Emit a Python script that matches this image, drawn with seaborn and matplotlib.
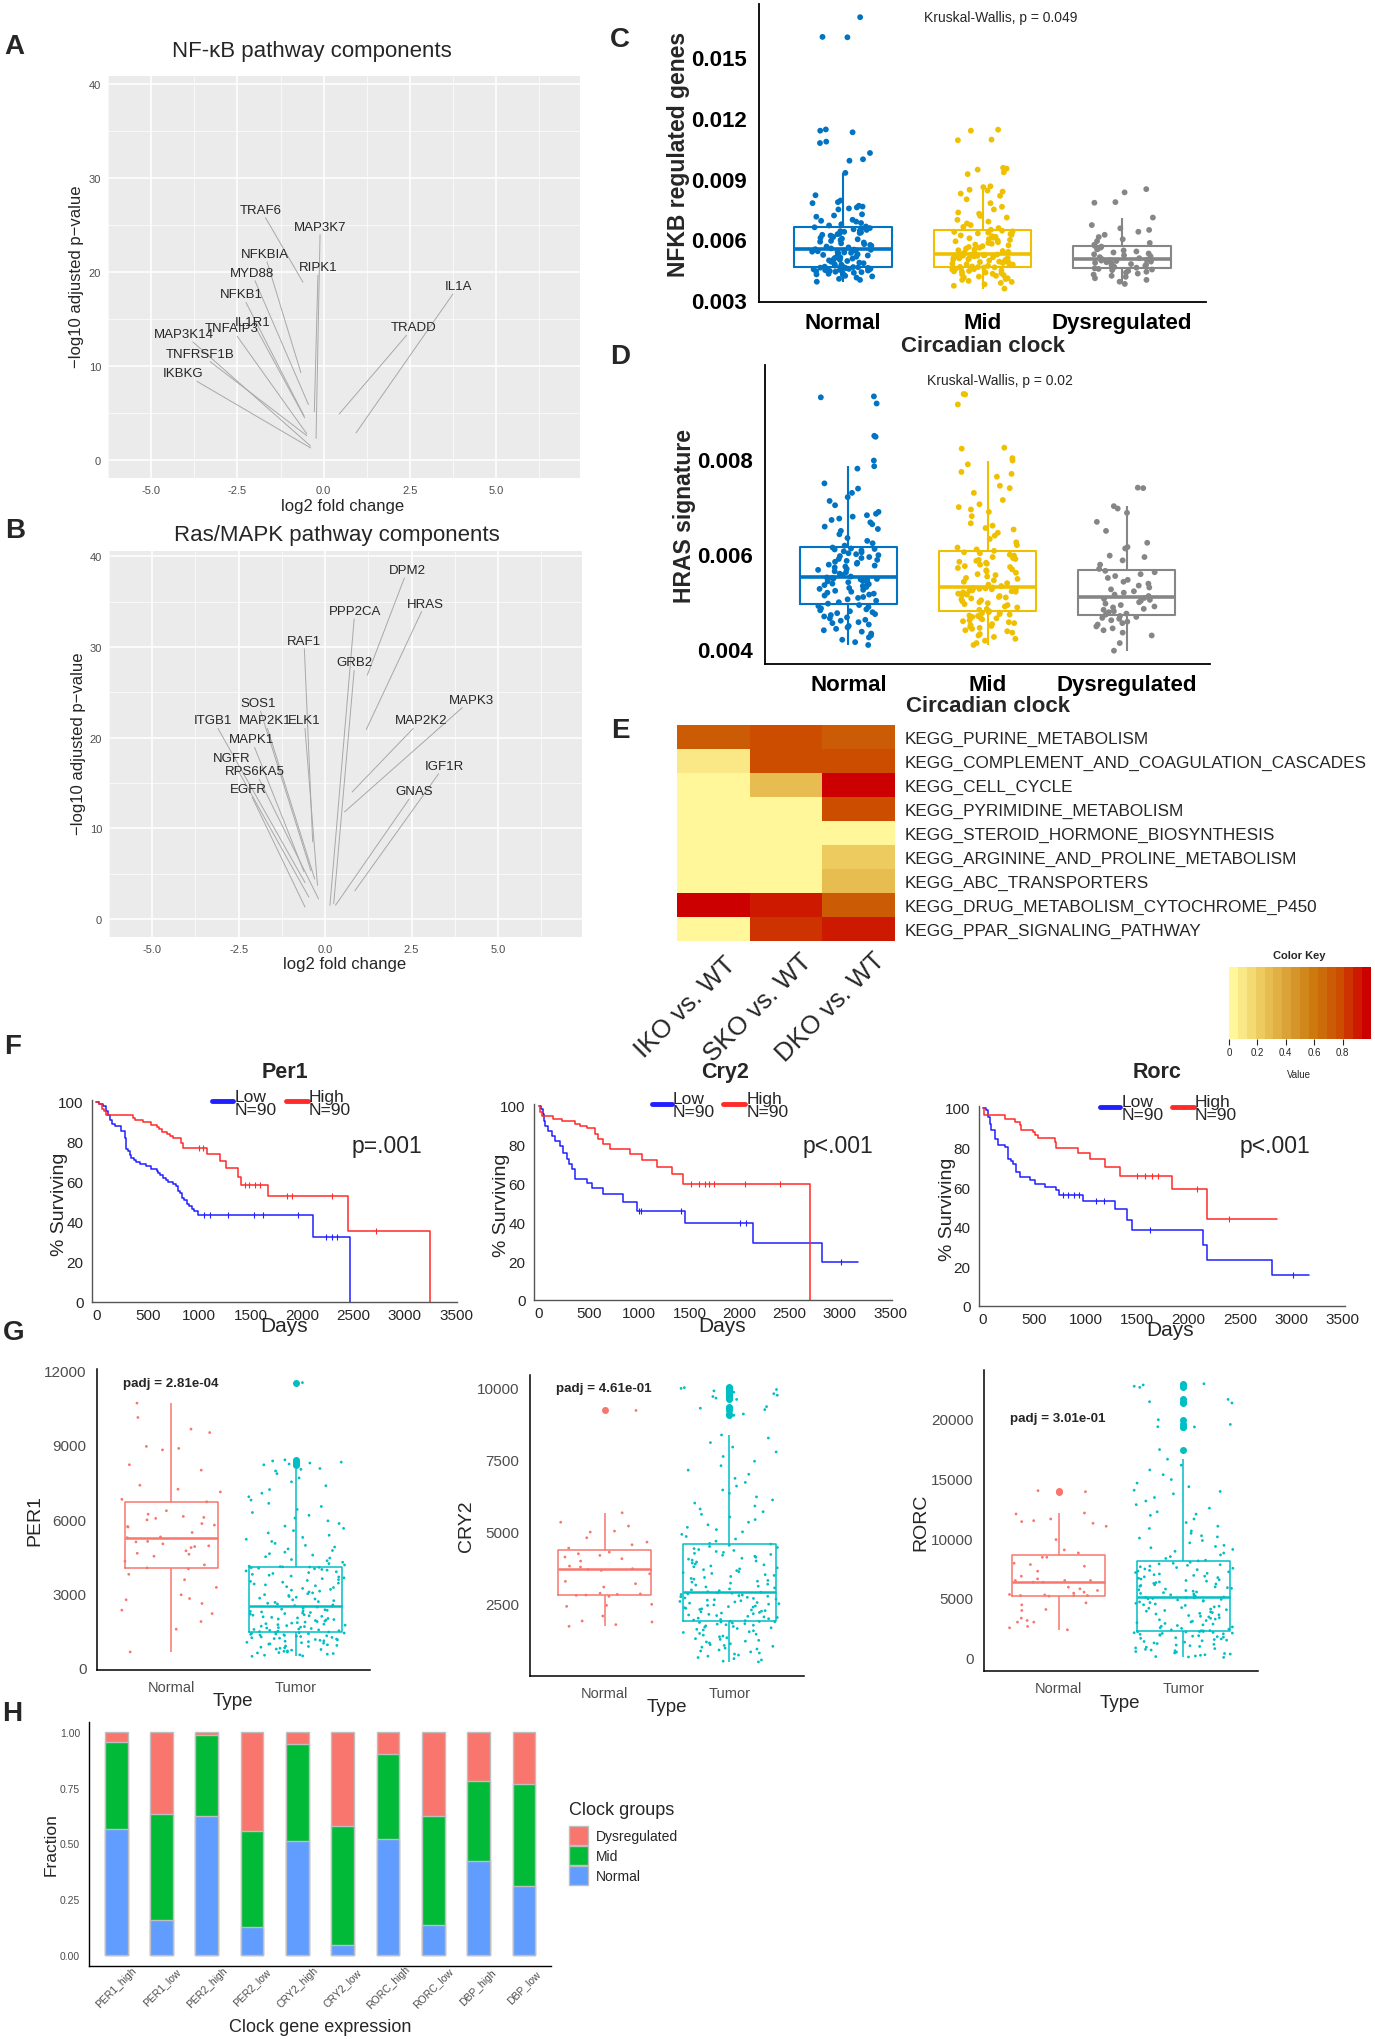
import numpy as np
import pandas as pd
import matplotlib
matplotlib.use("Agg")
import matplotlib.pyplot as plt
import seaborn as sns
from matplotlib import font_manager
from matplotlib.colors import ListedColormap, LinearSegmentedColormap, Normalize
from matplotlib.cm import ScalarMappable
from matplotlib.lines import Line2D
from matplotlib.patches import Patch

sns.set_style("white")
plt.rcParams["font.family"] = ["Liberation Sans", "DejaVu Sans"]
plt.rcParams["axes.unicode_minus"] = False
_avail = {f.name for f in font_manager.fontManager.ttflist}
NARROW = "Liberation Sans Narrow" if "Liberation Sans Narrow" in _avail else None

# ======================= DATA =======================
# A: NF-kB volcano
nfkb_genes = ["TRAF6", "MAP3K7", "NFKBIA", "RIPK1", "MYD88", "NFKB1", "IL1R1", "TNFAIP3",
              "MAP3K14", "TNFRSF1B", "IKBKG", "IL1A", "TRADD"]
nfkb_fc = [-0.60, -0.22, -0.66, -0.27, -0.44, -0.57, -0.55, -0.49, -0.38, -0.49, -0.38, 0.94, 0.45]
nfkb_p = [18.9, 2.3, 9.3, 5.1, 5.9, 4.7, 4.5, 2.8, 1.5, 2.6, 1.3, 2.9, 4.9]
nfkb_lab_x = [-1.82, -0.10, -1.71, -0.16, -2.09, -2.37, -2.06, -2.67, -4.05, -3.59, -4.06, 3.91, 2.60]
nfkb_lab_y = [26.6, 24.8, 21.9, 20.5, 19.9, 17.6, 14.7, 14.0, 13.4, 11.3, 9.2, 18.5, 14.1]

# B: Ras/MAPK volcano
ras_genes = ["DPM2", "HRAS", "PPP2CA", "RAF1", "GRB2", "MAPK3", "MAP2K2", "IGF1R", "GNAS",
             "SOS1", "ITGB1", "MAP2K1", "ELK1", "MAPK1", "NGFR", "RPS6KA5", "EGFR"]
ras_fc = [1.22, 1.19, 0.14, -0.36, 0.25, 0.56, 0.78, 0.86, 0.30, -0.41, -0.58, -0.30, -0.22,
          -0.61, -0.47, -0.19, -0.58]
ras_p = [26.9, 20.9, 1.5, 8.5, 1.7, 11.8, 14.0, 3.1, 1.5, 5.3, 4.0, 4.4, 3.7, 5.2, 2.4, 2.2, 1.3]
ras_lab_x = [2.38, 2.90, 0.86, -0.61, 0.86, 4.23, 2.77, 3.45, 2.59, -1.94, -3.23, -1.74, -0.60,
             -2.13, -2.71, -2.02, -2.22]
ras_lab_y = [38.5, 34.8, 34.0, 30.7, 28.3, 24.2, 21.9, 16.9, 14.1, 23.8, 21.9, 21.9, 21.9,
             19.8, 17.7, 16.3, 14.3]

# C: NFKB regulated genes by circadian clock group
circ_groups = ["Normal", "Mid", "Dysregulated"]
nfkb_normal = [0.00392, 0.00401, 0.00406, 0.00412, 0.00418, 0.00421, 0.00425, 0.00428, 0.00431, 0.00434,
               0.00436, 0.00439, 0.00441, 0.00443, 0.00445, 0.00447, 0.00449, 0.00450, 0.00452, 0.00453,
               0.00455, 0.00456, 0.00457, 0.00459, 0.00460, 0.00461, 0.00462, 0.00463, 0.00464, 0.00465,
               0.00466, 0.00467, 0.00471, 0.00476, 0.00479, 0.00483, 0.00486, 0.00490, 0.00494, 0.00497,
               0.00500, 0.00503, 0.00506, 0.00509, 0.00512, 0.00515, 0.00518, 0.00521, 0.00524, 0.00527,
               0.00529, 0.00531, 0.00534, 0.00536, 0.00538, 0.00540, 0.00542, 0.00544, 0.00546, 0.00548,
               0.00549, 0.00550, 0.00552, 0.00556, 0.00561, 0.00565, 0.00569, 0.00573, 0.00577, 0.00581,
               0.00585, 0.00589, 0.00593, 0.00597, 0.00601, 0.00604, 0.00608, 0.00612, 0.00615, 0.00619,
               0.00623, 0.00626, 0.00629, 0.00632, 0.00635, 0.00638, 0.00641, 0.00644, 0.00647, 0.00650,
               0.00653, 0.00656, 0.00660, 0.00664, 0.00669, 0.00675, 0.00681, 0.00688, 0.00692, 0.00697,
               0.00712, 0.00718, 0.00724, 0.00748, 0.00753, 0.00758, 0.00762, 0.00766, 0.00779, 0.00784,
               0.00792, 0.00818, 0.00928, 0.00988, 0.00995, 0.01026, 0.01075, 0.01082, 0.01128, 0.01136,
               0.01142, 0.01596, 0.01598, 0.01695]
nfkb_mid = [0.00358, 0.00372, 0.00379, 0.00386, 0.00391, 0.00396, 0.00401, 0.00405, 0.00409, 0.00413,
            0.00417, 0.00421, 0.00424, 0.00428, 0.00431, 0.00434, 0.00437, 0.00440, 0.00443, 0.00445,
            0.00448, 0.00450, 0.00452, 0.00454, 0.00456, 0.00458, 0.00460, 0.00462, 0.00463, 0.00464,
            0.00465, 0.00467, 0.00470, 0.00473, 0.00476, 0.00478, 0.00481, 0.00484, 0.00486, 0.00489,
            0.00491, 0.00494, 0.00496, 0.00499, 0.00501, 0.00503, 0.00505, 0.00507, 0.00509, 0.00511,
            0.00513, 0.00515, 0.00517, 0.00519, 0.00520, 0.00522, 0.00523, 0.00525, 0.00526, 0.00527,
            0.00528, 0.00529, 0.00531, 0.00535, 0.00539, 0.00543, 0.00547, 0.00551, 0.00555, 0.00559,
            0.00563, 0.00567, 0.00571, 0.00575, 0.00579, 0.00583, 0.00587, 0.00591, 0.00595, 0.00598,
            0.00602, 0.00606, 0.00609, 0.00613, 0.00616, 0.00620, 0.00623, 0.00627, 0.00630, 0.00634,
            0.00637, 0.00640, 0.00643, 0.00648, 0.00656, 0.00662, 0.00671, 0.00679, 0.00688, 0.00697,
            0.00708, 0.00716, 0.00727, 0.00733, 0.00748, 0.00761, 0.00779, 0.00798, 0.00815, 0.00826,
            0.00836, 0.00841, 0.00845, 0.00858, 0.00862, 0.00922, 0.00931, 0.00944, 0.00949, 0.00953,
            0.01089, 0.01092, 0.01136, 0.01141]
nfkb_dys = [0.00381, 0.00392, 0.00401, 0.00409, 0.00416, 0.00421, 0.00427, 0.00432, 0.00437, 0.00441,
            0.00445, 0.00449, 0.00452, 0.00455, 0.00458, 0.00461, 0.00464, 0.00467, 0.00470, 0.00473,
            0.00476, 0.00479, 0.00482, 0.00485, 0.00488, 0.00491, 0.00494, 0.00496, 0.00498, 0.00500,
            0.00504, 0.00508, 0.00513, 0.00517, 0.00522, 0.00527, 0.00531, 0.00536, 0.00541, 0.00546,
            0.00551, 0.00555, 0.00560, 0.00565, 0.00569, 0.00574, 0.00583, 0.00592, 0.00601, 0.00612,
            0.00623, 0.00638, 0.00647, 0.00655, 0.00671, 0.00708, 0.00781, 0.00784, 0.00832, 0.00848]

# D: HRAS signature
hras_normal = [0.00408, 0.00414, 0.00419, 0.00424, 0.00428, 0.00432, 0.00436, 0.00439, 0.00442, 0.00445,
               0.00448, 0.00451, 0.00454, 0.00456, 0.00459, 0.00461, 0.00464, 0.00466, 0.00468, 0.00471,
               0.00473, 0.00475, 0.00477, 0.00479, 0.00481, 0.00483, 0.00485, 0.00488, 0.00490, 0.00492,
               0.00495, 0.00498, 0.00501, 0.00504, 0.00507, 0.00509, 0.00512, 0.00514, 0.00516, 0.00518,
               0.00520, 0.00522, 0.00524, 0.00526, 0.00528, 0.00530, 0.00532, 0.00534, 0.00536, 0.00537,
               0.00539, 0.00540, 0.00542, 0.00543, 0.00545, 0.00546, 0.00547, 0.00548, 0.00549, 0.00550,
               0.00552, 0.00555, 0.00558, 0.00561, 0.00563, 0.00566, 0.00568, 0.00571, 0.00573, 0.00575,
               0.00577, 0.00579, 0.00581, 0.00583, 0.00585, 0.00587, 0.00589, 0.00591, 0.00593, 0.00595,
               0.00597, 0.00599, 0.00601, 0.00603, 0.00605, 0.00607, 0.00609, 0.00610, 0.00611, 0.00613,
               0.00617, 0.00622, 0.00627, 0.00633, 0.00641, 0.00648, 0.00652, 0.00657, 0.00662, 0.00666,
               0.00671, 0.00674, 0.00678, 0.00681, 0.00684, 0.00688, 0.00702, 0.00711, 0.00719, 0.00728,
               0.00737, 0.00748, 0.00779, 0.00784, 0.00796, 0.00846, 0.00848, 0.00916, 0.00929, 0.00931]
hras_mid = [0.00408, 0.00412, 0.00417, 0.00421, 0.00425, 0.00428, 0.00431, 0.00434, 0.00437, 0.00439,
            0.00442, 0.00444, 0.00446, 0.00448, 0.00450, 0.00452, 0.00454, 0.00456, 0.00458, 0.00460,
            0.00462, 0.00464, 0.00465, 0.00467, 0.00469, 0.00470, 0.00472, 0.00473, 0.00475, 0.00476,
            0.00477, 0.00479, 0.00482, 0.00484, 0.00487, 0.00489, 0.00492, 0.00494, 0.00496, 0.00498,
            0.00500, 0.00502, 0.00504, 0.00506, 0.00508, 0.00509, 0.00511, 0.00513, 0.00514, 0.00516,
            0.00517, 0.00519, 0.00520, 0.00521, 0.00522, 0.00523, 0.00524, 0.00525, 0.00526, 0.00527,
            0.00528, 0.00529, 0.00532, 0.00535, 0.00538, 0.00541, 0.00544, 0.00547, 0.00549, 0.00552,
            0.00555, 0.00557, 0.00560, 0.00563, 0.00565, 0.00567, 0.00570, 0.00572, 0.00574, 0.00577,
            0.00579, 0.00581, 0.00583, 0.00585, 0.00587, 0.00589, 0.00591, 0.00593, 0.00596, 0.00598,
            0.00601, 0.00603, 0.00606, 0.00609, 0.00613, 0.00618, 0.00624, 0.00631, 0.00638, 0.00644,
            0.00651, 0.00654, 0.00659, 0.00664, 0.00679, 0.00688, 0.00693, 0.00698, 0.00704, 0.00713,
            0.00728, 0.00738, 0.00743, 0.00762, 0.00768, 0.00772, 0.00788, 0.00796, 0.00801, 0.00821,
            0.00823, 0.00914, 0.00935, 0.00936]
hras_dys = [0.00396, 0.00412, 0.00428, 0.00434, 0.00439, 0.00443, 0.00447, 0.00451, 0.00454, 0.00457,
            0.00460, 0.00463, 0.00465, 0.00467, 0.00469, 0.00472, 0.00474, 0.00477, 0.00479, 0.00482,
            0.00484, 0.00487, 0.00489, 0.00492, 0.00495, 0.00498, 0.00501, 0.00503, 0.00505, 0.00507,
            0.00511, 0.00514, 0.00518, 0.00521, 0.00525, 0.00529, 0.00533, 0.00537, 0.00541, 0.00545,
            0.00549, 0.00553, 0.00557, 0.00561, 0.00564, 0.00568, 0.00577, 0.00586, 0.00593, 0.00596,
            0.00611, 0.00614, 0.00623, 0.00648, 0.00667, 0.00686, 0.00695, 0.00700, 0.00738, 0.00739]

# E: KEGG heatmap
pathways = ["KEGG_PURINE_METABOLISM", "KEGG_COMPLEMENT_AND_COAGULATION_CASCADES", "KEGG_CELL_CYCLE",
            "KEGG_PYRIMIDINE_METABOLISM", "KEGG_STEROID_HORMONE_BIOSYNTHESIS",
            "KEGG_ARGININE_AND_PROLINE_METABOLISM", "KEGG_ABC_TRANSPORTERS",
            "KEGG_DRUG_METABOLISM_CYTOCHROME_P450", "KEGG_PPAR_SIGNALING_PATHWAY"]
contrasts = ["IKO vs. WT", "SKO vs. WT", "DKO vs. WT"]
heat_iko = [0.72, 0.12, 0.0, 0.0, 0.0, 0.0, 0.0, 1.0, 0.03]
heat_sko = [0.80, 0.80, 0.28, 0.0, 0.0, 0.0, 0.0, 0.90, 0.87]
heat_dko = [0.72, 0.80, 1.0, 0.80, 0.0, 0.20, 0.30, 0.72, 0.90]
key_ticks = [0, 0.2, 0.4, 0.6, 0.8]

# F: Kaplan-Meier curves (time in days, % surviving)
per1_low_t = [0, 30, 60, 90, 110, 130, 150, 180, 244, 276, 285, 292, 310, 330, 341, 370, 390, 420, 487, 530,
              585, 600, 617, 650, 680, 700, 747, 770, 796, 810, 829, 850, 877, 900, 926, 950, 991, 2112, 2470]
per1_low_s = [100, 98.9, 97.8, 95.5, 93.3, 91.1, 88.9, 87.8, 85.6, 82.2, 80.0, 76.7, 75.6, 73.3, 72.2, 71.1,
              70.0, 68.9, 67.8, 66.7, 65.6, 64.4, 63.3, 62.2, 61.1, 60.0, 58.9, 57.8, 55.6, 54.4, 52.2, 51.1,
              48.9, 47.8, 46.7, 45.6, 43.3, 32.5, 0]
per1_high_t = [0, 25, 50, 75, 98, 357, 374, 455, 536, 585, 610, 634, 683, 720, 747, 820, 845, 1072, 1202,
               1261, 1381, 1404, 1674, 2447, 3250]
per1_high_s = [100, 98.9, 96.7, 95.6, 93.3, 92.2, 90.9, 89.8, 88.7, 87.5, 86.4, 85.2, 84.1, 82.9, 81.8,
               79.5, 77.2, 73.8, 70.3, 66.8, 62.4, 58.5, 53.2, 35.3, 0]
per1_low_c = [1050, 1110, 1280, 1530, 1620, 1960, 2230, 2290, 2340]
per1_high_c = [1000, 1040, 1450, 1490, 1540, 1590, 1860, 1900, 2290, 2720]

cry2_low_t = [0, 20, 37, 50, 60, 93, 126, 160, 209, 243, 276, 300, 326, 359, 475, 525, 641, 841, 974, 1456,
              2137, 2818, 3184]
cry2_low_s = [100, 98.3, 96.0, 92.3, 89.7, 87.0, 84.5, 82.0, 79.4, 76.0, 72.5, 70.0, 67.4, 62.2, 60.5, 57.9,
              54.5, 50.5, 45.9, 39.5, 29.6, 19.6, 19.6]
cry2_high_t = [0, 10, 33, 143, 226, 359, 409, 475, 558, 592, 641, 708, 907, 1024, 1173, 1323, 1439, 2702]
cry2_high_s = [100, 97.0, 94.8, 93.5, 92.3, 90.5, 89.7, 88.8, 85.4, 82.8, 80.2, 77.7, 75.1, 72.2, 68.6, 64.8,
               60.0, 0]
cry2_low_c = [1000, 1020, 1420, 2000, 2060, 3010]
cry2_high_c = [1520, 1600, 1660, 1700, 1740, 2050, 2400]

rorc_low_t = [0, 30, 49, 65, 81, 114, 146, 211, 244, 270, 292, 325, 357, 455, 503, 601, 714, 740, 974, 1282,
              1396, 1451, 2143, 2175, 2808, 3166]
rorc_low_s = [100, 99.0, 95.5, 92.0, 88.7, 84.5, 81.5, 80.3, 74.4, 73.0, 71.9, 67.7, 65.2, 63.5, 61.8, 60.1,
              58.4, 56.2, 52.9, 48.8, 43.3, 38.2, 30.6, 23.1, 15.5, 15.5]
rorc_high_t = [0, 10, 211, 308, 357, 373, 487, 503, 536, 698, 714, 925, 1039, 1185, 1331, 1834, 2175, 2857]
rorc_high_s = [100, 96.3, 94.3, 92.9, 91.2, 88.7, 87.9, 86.2, 84.8, 82.8, 79.8, 77.4, 74.1, 70.2, 65.7,
               58.9, 43.8, 43.8]
rorc_low_c = [780, 830, 880, 930, 1100, 1180, 1620, 3010]
rorc_high_c = [1500, 1580, 1640, 1700, 2080, 2390]

# G: expression Normal vs Tumor
tissue_groups = ["Normal", "Tumor"]
per1_normal = [630, 1550, 1860, 2180, 2320, 2590, 2740, 2790, 2940, 3240, 3550, 3770, 3990, 4030, 4150, 4300,
               4500, 4580, 4620, 4720, 4850, 4890, 4920, 5000, 5080, 5100, 5280, 5250, 5460, 5680, 5700, 5760,
               5820, 5970, 6030, 6070, 6110, 6200, 6340, 6700, 6800, 7100, 7210, 7370, 7980, 8200, 8800, 8860,
               8940, 9500, 9640, 10110, 10690]
per1_tumor = [455, 470, 498, 512, 540, 566, 590, 603, 628, 655, 671, 702, 730, 748, 779, 801, 822, 850, 871, 893,
              919, 944, 958, 983, 1002, 1019, 1046, 1063, 1081, 1099, 1118, 1133, 1152, 1170, 1186, 1203, 1219,
              1236, 1252, 1268, 1283, 1297, 1312, 1326, 1340, 1354, 1368, 1381, 1395, 1410,
              1422, 1436, 1451, 1468, 1487, 1503, 1522, 1540, 1556, 1578, 1597, 1614, 1633, 1655, 1672, 1694,
              1713, 1735, 1752, 1773, 1795, 1814, 1836, 1858, 1877, 1899, 1921, 1940, 1962, 1984, 2006, 2027,
              2049, 2070, 2092, 2115, 2136, 2158, 2180, 2203, 2224, 2247, 2269, 2291, 2314, 2336, 2359, 2402,
              2443, 2481,
              2503, 2532, 2567, 2598, 2634, 2665, 2703, 2736, 2771, 2805, 2842, 2874, 2913, 2946, 2983, 3018,
              3054, 3089, 3127, 3160, 3198, 3235, 3268, 3306, 3341, 3377, 3412, 3449, 3483, 3521, 3555, 3592,
              3627, 3662, 3697, 3733, 3768, 3803, 3838, 3871, 3905, 3937, 3966, 3992, 4015, 4034, 4051, 4063,
              4072, 4080,
              4098, 4147, 4203, 4255, 4318, 4366, 4425, 4480, 4547, 4603, 4664, 4731, 4796, 4872, 4938, 5019,
              5097, 5186, 5261, 5348, 5442, 5534, 5627, 5719, 5823, 5931, 6042, 6155, 6268, 6393, 6512, 6638,
              6771, 6905, 7048, 7196, 7349, 7508, 7667, 7839, 7948, 8012, 8047, 8196, 8228, 8268, 8305, 8352,
              8398, 11520]
cry2_normal = [1725, 1783, 1875, 1910, 2083, 2418, 2453, 2488, 2765, 2800, 2810, 2834, 2850, 2870, 3088, 3204,
               3285, 3550, 3666, 3700, 3724, 3782, 3817, 3990, 4072, 4130, 4187, 4245, 4300, 4441, 4557, 4650,
               4800, 4996, 5030, 5204, 5340, 5667, 9220]
cry2_tumor = [489, 515, 558, 603, 641, 688, 727, 762, 798, 836, 868, 903, 937, 968, 1002, 1031, 1062, 1088, 1121,
              1148, 1182, 1209, 1238, 1271, 1297, 1329, 1362, 1388, 1419, 1452, 1478, 1511, 1537, 1569, 1598,
              1622, 1648, 1673, 1697, 1718, 1742, 1761, 1779, 1802, 1818, 1839, 1857, 1873, 1886, 1894,
              1902, 1921, 1943, 1962, 1988, 2008, 2031, 2052, 2073, 2098, 2119, 2141, 2163, 2184, 2207, 2229,
              2251, 2268, 2292, 2311, 2332, 2349, 2371, 2392, 2409, 2431, 2452, 2468, 2493, 2511, 2528, 2552,
              2571, 2589, 2612, 2633, 2649, 2671, 2692, 2709, 2731, 2752, 2768, 2791, 2812, 2829, 2851, 2872,
              2889, 2908,
              2927, 2961, 2989, 3023, 3058, 3092, 3118, 3157, 3188, 3224, 3259, 3291, 3318, 3362, 3388, 3421,
              3457, 3492, 3519, 3561, 3588, 3623, 3658, 3691, 3718, 3757, 3792, 3821, 3859, 3888, 3922, 3958,
              3993, 4021, 4057, 4088, 4122, 4158, 4193, 4219, 4258, 4291, 4323, 4358, 4389, 4422, 4461, 4497,
              4538, 4579,
              4603, 4682, 4757, 4843, 4918, 5004, 5083, 5162, 5249, 5338, 5431, 5522, 5613, 5704, 5797, 5902,
              6004, 6113, 6218, 6342, 6458, 6593, 6721, 6862, 7003, 7148, 7302, 7457, 7621, 7779, 7948, 8103,
              8262, 8368, 9052, 9096, 9248, 9297, 9352, 9603, 9648, 9702, 9748, 9801, 9853, 9898, 9947, 9985,
              10012, 10043]
rorc_normal = [2337, 2504, 2615, 2977, 2977, 3116, 3310, 3950, 4034, 4423, 4590, 5150, 5202, 5202, 5202, 5250,
               5286, 5400, 5481, 5620, 5759, 5898, 6315, 6315, 6454, 6454, 6454, 6593, 6816, 7233, 7650, 7790,
               7900, 8400, 8400, 8763, 9014, 9876, 10990, 11240, 11380, 11460, 11600, 12020, 12100, 13880, 13965]
rorc_tumor = [28, 64, 97, 146, 203, 247, 305, 352, 398, 463, 517, 584, 641, 698, 762, 818, 883, 941, 1003, 1058,
              1122, 1183, 1237, 1302, 1358, 1417, 1468, 1523, 1571, 1618, 1672, 1718, 1763, 1802, 1843, 1877,
              1921, 1958, 1997, 2031, 2062, 2088, 2118, 2147, 2172, 2191, 2208, 2226, 2238, 2249,
              2268, 2331, 2388, 2453, 2509, 2572, 2628, 2693, 2748, 2812, 2868, 2933, 2988, 3052, 3108, 3173,
              3227, 3292, 3348, 3413, 3468, 3531, 3588, 3652, 3708, 3773, 3828, 3893, 3948, 4012, 4068, 4133,
              4188, 4252, 4308, 4373, 4428, 4493, 4548, 4612, 4668, 4732, 4778, 4833, 4878, 4922, 4958, 5003,
              5028, 5058,
              5083, 5138, 5203, 5258, 5322, 5377, 5443, 5498, 5562, 5617, 5683, 5738, 5802, 5857, 5923, 5978,
              6042, 6097, 6163, 6218, 6282, 6337, 6403, 6458, 6522, 6577, 6643, 6698, 6762, 6817, 6883, 6938,
              7002, 7057, 7123, 7178, 7242, 7297, 7363, 7418, 7482, 7537, 7603, 7658, 7722, 7777, 7843, 7898,
              7982, 8097,
              8152, 8298, 8453, 8597, 8752, 8898, 9053, 9197, 9302, 9398, 9603, 9797, 10003, 10102, 10197, 10403,
              10598, 10803, 10997, 11302, 11597, 11903, 12003, 12197, 12503, 12797, 13103, 13397, 13703, 13902,
              14003, 14297, 14603, 14897, 15303, 15697, 16103, 16598, 17402, 19297, 19312, 19503, 19897, 21302,
              21403, 21597, 22603, 22697, 22803, 22902]

# H: clock group fractions
h_labels = ["PER1_high", "PER1_low", "PER2_high", "PER2_low", "CRY2_high", "CRY2_low",
            "RORC_high", "RORC_low", "DBP_high", "DBP_low"]
frac_normal = [0.565, 0.157, 0.622, 0.123, 0.510, 0.043, 0.520, 0.133, 0.421, 0.310]
frac_mid = [0.390, 0.476, 0.366, 0.432, 0.435, 0.534, 0.380, 0.489, 0.357, 0.455]
frac_dys = [0.045, 0.367, 0.012, 0.445, 0.055, 0.423, 0.100, 0.378, 0.222, 0.235]

# ======================= STYLE =======================
JCO = {"Normal": "#0073C2", "Mid": "#EFC000", "Dysregulated": "#868686"}
TT = {"Normal": "#F8766D", "Tumor": "#00BFC4"}
CLOCK = {"Dysregulated": "#F8766D", "Mid": "#00BA38", "Normal": "#619CFF"}
KM_BLUE, KM_RED = "#1f1fff", "#ff2a2a"
GRAY30 = "#4D4D4D"

W, H = 1375, 2040
fig = plt.figure(figsize=(W / 100, H / 100), dpi=100, facecolor="white")


def add_ax(x0, y0, x1, y1):
    return fig.add_axes([x0 / W, 1 - y1 / H, (x1 - x0) / W, (y1 - y0) / H])


def ftext(x, y, s, **kw):
    kw.setdefault("ha", "center")
    kw.setdefault("va", "center")
    return fig.text(x / W, 1 - y / H, s, **kw)


def letter(x, y, s):
    ftext(x, y, s, fontsize=20, fontweight="bold")


def classic(ax, lw=1.0, labelsize=11, labelcolor=GRAY30, ticklen=4):
    for side in ["top", "right"]:
        ax.spines[side].set_visible(False)
    for side in ["left", "bottom"]:
        ax.spines[side].set_linewidth(lw)
        ax.spines[side].set_color("black")
    ax.tick_params(direction="out", length=ticklen, width=lw, labelsize=labelsize,
                   labelcolor=labelcolor, color="#333333")
    ax.set_xlabel("")
    ax.set_ylabel("")


# ---------------- A / B volcano -----------------
def volcano(ax, genes, fc, pv, lab_x, lab_y, ylim):
    ax.set_facecolor("#EBEBEB")
    ax.set_xlim(-5.94, 7.43)
    ax.set_ylim(*ylim)
    ax.set_xticks([-5, -2.5, 0, 2.5, 5])
    ax.set_xticklabels(["-5.0", "-2.5", "0.0", "2.5", "5.0"])
    ax.set_xticks([-6.25, -3.75, -1.25, 1.25, 3.75, 6.25], minor=True)
    ax.set_yticks([0, 10, 20, 30, 40])
    ax.set_yticks([5, 15, 25, 35], minor=True)
    ax.grid(which="major", color="white", lw=1.1)
    ax.grid(which="minor", color="white", lw=0.5)
    ax.set_axisbelow(True)
    for s in ax.spines.values():
        s.set_visible(False)
    ax.tick_params(which="major", length=3, color="#333333", labelsize=8, labelcolor=GRAY30, pad=2)
    ax.tick_params(which="minor", length=0)
    T = ax.transData
    inv = T.inverted()
    for g, x, y, lx, ly in zip(genes, fc, pv, lab_x, lab_y):
        pl = T.transform((lx, ly))
        pp = T.transform((x, y))
        dx, dy = pp[0] - pl[0], pp[1] - pl[1]
        hw = 4.3 * len(g) + 2
        hh = 8
        t = min(hw / abs(dx) if dx else np.inf, hh / abs(dy) if dy else np.inf)
        if t < 1:
            sx, sy = inv.transform((pl[0] + t * dx, pl[1] + t * dy))
            ax.plot([sx, x], [sy, y], color="#A8A8A8", lw=0.7, zorder=2)
        ax.text(lx, ly, g, ha="center", va="center", fontsize=9.5, zorder=3)


axA = add_ax(108, 77, 580, 479)
volcano(axA, nfkb_genes, nfkb_fc, nfkb_p, nfkb_lab_x, nfkb_lab_y, (-1.9, 40.8))
letter(14, 47, "A")
ftext(312, 52, "NF-\u03baB pathway components", fontsize=16)
ftext(343, 507, "log2 fold change", fontsize=12)
ftext(76, 277, "\u2212log10 adjusted p\u2212value", fontsize=12, rotation=90)

axB = add_ax(109, 552, 582, 938)
volcano(axB, ras_genes, ras_fc, ras_p, ras_lab_x, ras_lab_y, (-2.0, 40.6))
letter(15, 531, "B")
ftext(337, 536, "Ras/MAPK pathway components", fontsize=16)
ftext(345, 965, "log2 fold change", fontsize=12)
ftext(78, 744, "\u2212log10 adjusted p\u2212value", fontsize=12, rotation=90)


# ---------------- box + strip helper -----------------
def box_strip(ax, groups, values, palette, width, jitter, size, lw, med_lw, showfliers, fliersize=5):
    df = pd.DataFrame({"g": np.repeat(groups, [len(v) for v in values]),
                       "v": np.concatenate([np.asarray(v, float) for v in values])})
    sns.boxplot(data=df, x="g", y="v", hue="g", order=groups, hue_order=groups, palette=palette,
                saturation=1, fill=False, width=width, dodge=False, showcaps=False,
                showfliers=showfliers, linewidth=lw, legend=False, ax=ax,
                medianprops={"linewidth": med_lw},
                flierprops={"marker": "o", "markersize": fliersize})
    for ln in ax.lines:
        if ln.get_marker() == "o":
            ln.set_markerfacecolor(ln.get_markeredgecolor())
    sns.stripplot(data=df, x="g", y="v", hue="g", order=groups, hue_order=groups, palette=palette,
                  jitter=jitter, size=size, dodge=False, legend=False, ax=ax, zorder=3)


np.random.seed(7)

# ---------------- C -----------------
axC = add_ax(759, 5, 1206, 303)
box_strip(axC, circ_groups, [nfkb_normal, nfkb_mid, nfkb_dys], JCO, 0.7, 0.22, 4.2, 1.5, 2.6, False)
axC.set_xlim(-0.6, 2.6)
axC.set_ylim(0.00292, 0.0176)
axC.set_yticks([0.003, 0.006, 0.009, 0.012, 0.015])
classic(axC, lw=1.3, labelsize=16, labelcolor="black", ticklen=5)
axC.set_yticklabels(["0.003", "0.006", "0.009", "0.012", "0.015"], fontweight="bold")
axC.set_xticklabels(circ_groups, fontweight="bold")
axC.tick_params(axis="x", pad=2)
letter(620, 40, "C")
ftext(678, 154, "NFKB regulated genes", fontsize=16.5, fontweight="bold", rotation=90)
ftext(983, 346, "Circadian clock", fontsize=16, fontweight="bold")
ftext(1001, 18, "Kruskal-Wallis, p = 0.049", fontsize=10)

# ---------------- D -----------------
axD = add_ax(765, 366, 1210, 665)
box_strip(axD, circ_groups, [hras_normal, hras_mid, hras_dys], JCO, 0.7, 0.22, 4.2, 1.5, 2.6, False)
axD.set_xlim(-0.6, 2.6)
axD.set_ylim(0.00368, 0.00997)
axD.set_yticks([0.004, 0.006, 0.008])
classic(axD, lw=1.3, labelsize=16, labelcolor="black", ticklen=5)
axD.set_yticklabels(["0.004", "0.006", "0.008"], fontweight="bold")
axD.set_xticklabels(circ_groups, fontweight="bold")
axD.tick_params(axis="x", pad=2)
letter(620, 357, "D")
ftext(684, 516, "HRAS signature", fontsize=16.5, fontweight="bold", rotation=90)
ftext(988, 707, "Circadian clock", fontsize=16, fontweight="bold")
ftext(1000, 381, "Kruskal-Wallis, p = 0.02", fontsize=10)

# ---------------- E heatmap -----------------
base_cmap = LinearSegmentedColormap.from_list(
    "ylrd", ["#FFF799", "#EDCB5E", "#DBA238", "#CC7A0E", "#CC4C00", "#CC0000"])
cmap16 = ListedColormap(base_cmap(np.linspace(0, 1, 16)))
heat_df = pd.DataFrame({"IKO vs. WT": heat_iko, "SKO vs. WT": heat_sko, "DKO vs. WT": heat_dko},
                       index=pathways)
axE = add_ax(677, 726, 895, 942)
sns.heatmap(heat_df, ax=axE, cmap=cmap16, vmin=0, vmax=1, cbar=False, xticklabels=False,
            yticklabels=True, linewidths=0)
axE.yaxis.tick_right()
if NARROW:
    row_font = dict(family=NARROW, fontsize=15)
else:
    row_font = dict(fontsize=12.3)
for lab in axE.yaxis.get_ticklabels():
    lab.set_rotation(0)
    lab.set_ha("left")
    lab.set(**row_font)
axE.tick_params(axis="y", length=0, pad=7)
axE.set_xlabel("")
axE.set_ylabel("")
for j, name in enumerate(contrasts):
    axE.text(j + 0.5 - 0.385, 11.75, name, rotation=45, ha="center", va="center", fontsize=18.5,
             clip_on=False)
letter(620, 731, "E")
kax = add_ax(1229, 968, 1371, 1040)
cb = fig.colorbar(ScalarMappable(norm=Normalize(0, 1), cmap=cmap16), cax=kax, orientation="horizontal",
                  ticks=key_ticks)
cb.ax.set_xticklabels(["0", "0.2", "0.4", "0.6", "0.8"])
cb.outline.set_visible(False)
kax.tick_params(labelsize=7, length=4, width=0.8, pad=2)
ftext(1299, 956, "Color Key", fontsize=8, fontweight="bold")
ftext(1299, 1075, "Value", fontsize=7)


# ---------------- F KM -----------------
def km_panel(ax, tl, sl, th, sh, cl, ch, xlim):
    sns.lineplot(x=tl, y=sl, drawstyle="steps-post", estimator=None, sort=False, color=KM_BLUE,
                 linewidth=1.1, ax=ax)
    sns.lineplot(x=th, y=sh, drawstyle="steps-post", estimator=None, sort=False, color=KM_RED,
                 linewidth=1.1, ax=ax)
    for times, surv, cens, col in [(tl, sl, cl, KM_BLUE), (th, sh, ch, KM_RED)]:
        t = np.asarray(times)
        s = np.asarray(surv)
        idx = np.searchsorted(t, cens, side="right") - 1
        ax.plot(cens, s[idx], ls="none", marker="|", ms=4, mew=0.8, color=col)
    ax.set_xlim(*xlim)
    ax.set_ylim(0, 101)
    ax.set_xticks(range(0, 3501, 500))
    ax.set_yticks(range(0, 101, 20))
    for side in ["top", "right"]:
        ax.spines[side].set_visible(False)
    for side in ["left", "bottom"]:
        ax.spines[side].set_color("#555555")
        ax.spines[side].set_linewidth(1.0)
    ax.tick_params(axis="y", length=4, width=1, pad=2, labelsize=11, color="#555555")
    ax.tick_params(axis="x", length=3, width=1, pad=1, labelsize=11, color="#555555")
    ax.set_xlabel("")
    ax.set_ylabel("")


def km_legend(xb0, xb1, xr0, xr1, yl, xt_low, xt_high, yt):
    fig.add_artist(Line2D([xb0 / W, xb1 / W], [1 - yl / H] * 2, color=KM_BLUE, lw=3.5,
                          transform=fig.transFigure))
    fig.add_artist(Line2D([xr0 / W, xr1 / W], [1 - yl / H] * 2, color=KM_RED, lw=3.5,
                          transform=fig.transFigure))
    ftext(xt_low, yt, "Low\nN=90", fontsize=12.5, ha="left", linespacing=0.8)
    ftext(xt_high, yt, "High\nN=90", fontsize=12.5, ha="left", linespacing=0.8)


letter(13, 1047, "F")
axF1 = add_ax(92, 1101, 457, 1303)
km_panel(axF1, per1_low_t, per1_low_s, per1_high_t, per1_high_s, per1_low_c, per1_high_c, (-43, 3510))
ftext(285, 1078, "Per1", fontsize=15.5, fontweight="bold", va="baseline")
km_legend(212, 233, 286, 308, 1102, 235, 309, 1104)
ftext(387, 1146, "p=.001", fontsize=16.5)
ftext(60, 1204, "% Surviving", fontsize=14, rotation=90)
ftext(284, 1327, "Days", fontsize=15)

axF2 = add_ax(534, 1105, 892, 1301)
km_panel(axF2, cry2_low_t, cry2_low_s, cry2_high_t, cry2_high_s, cry2_low_c, cry2_high_c, (-50, 3520))
ftext(725, 1078, "Cry2", fontsize=15.5, fontweight="bold", va="baseline")
km_legend(652, 672, 723, 745, 1105, 673, 747, 1106)
ftext(838, 1147, "p<.001", fontsize=16.5)
ftext(502, 1205, "% Surviving", fontsize=14, rotation=90)
ftext(722, 1326, "Days", fontsize=15)

axF3 = add_ax(979, 1107, 1345, 1307)
km_panel(axF3, rorc_low_t, rorc_low_s, rorc_high_t, rorc_high_s, rorc_low_c, rorc_high_c, (-39, 3520))
ftext(1157, 1078, "Rorc", fontsize=15.5, fontweight="bold", va="baseline")
km_legend(1100, 1120, 1172, 1194, 1108, 1122, 1195, 1109)
ftext(1275, 1147, "p<.001", fontsize=16.5)
ftext(947, 1209, "% Surviving", fontsize=14, rotation=90)
ftext(1170, 1330, "Days", fontsize=15)


# ---------------- G -----------------
def g_panel(box, normal, tumor, ylim, yticks):
    ax = add_ax(*box)
    box_strip(ax, tissue_groups, [normal, tumor], TT, 0.75, 0.4, 2.0, 1.1, 1.8, True, fliersize=4)
    ax.set_xlim(-0.6, 1.6)
    ax.set_ylim(*ylim)
    ax.set_yticks(yticks)
    classic(ax, lw=1.1, labelsize=11, labelcolor=GRAY30, ticklen=4)
    ax.tick_params(axis="x", labelsize=10.5)
    return ax


letter(14, 1333, "G")
g_panel((97, 1370, 370, 1671), per1_normal, per1_tumor, (-100, 12070), [0, 3000, 6000, 9000, 12000])
ftext(171, 1384, "padj = 2.81e-04", fontsize=9.6, fontweight="bold")
ftext(35, 1521, "PER1", fontsize=14, rotation=90)
ftext(233, 1702, "Type", fontsize=13.5)

g_panel((530, 1376, 804, 1677), cry2_normal, cry2_tumor, (0, 10450), [2500, 5000, 7500, 10000])
ftext(604, 1389, "padj = 4.61e-01", fontsize=9.6, fontweight="bold")
ftext(467, 1526, "CRY2", fontsize=14, rotation=90)
ftext(667, 1708, "Type", fontsize=13.5)

g_panel((984, 1371, 1258, 1672), rorc_normal, rorc_tumor, (-1110, 24055), [0, 5000, 10000, 15000, 20000])
ftext(1058, 1419, "padj = 3.01e-01", fontsize=9.6, fontweight="bold")
ftext(921, 1522, "RORC", fontsize=14, rotation=90)
ftext(1120, 1703, "Type", fontsize=13.5)

# ---------------- H -----------------
axH = add_ax(89, 1723, 551, 1967)
cum_total = np.asarray(frac_normal) + np.asarray(frac_mid) + np.asarray(frac_dys)
cum_mid = np.asarray(frac_normal) + np.asarray(frac_mid)
for vals, key in [(cum_total, "Dysregulated"), (cum_mid, "Mid"), (np.asarray(frac_normal), "Normal")]:
    sns.barplot(x=h_labels, y=vals, order=h_labels, color=CLOCK[key], width=0.5, edgecolor="#BEBEBE",
                linewidth=1.0, errorbar=None, saturation=1, ax=axH)
axH.set_xlim(-0.6, 9.6)
axH.set_ylim(-0.05, 1.045)
axH.set_yticks([0, 0.25, 0.5, 0.75, 1.0])
axH.set_yticklabels(["0.00", "0.25", "0.50", "0.75", "1.00"])
classic(axH, lw=1.0, labelsize=7.5, labelcolor=GRAY30, ticklen=3)
axH.set_xticks(range(len(h_labels)))
axH.set_xticklabels(h_labels, rotation=45, ha="center", va="center", rotation_mode="anchor", fontsize=7.5)
axH.tick_params(axis="x", pad=12)
letter(12, 1714, "H")
ftext(51, 1845, "Fraction", fontsize=12.5, rotation=90)
ftext(320, 2028, "Clock gene expression", fontsize=13)
ftext(569, 1811, "Clock groups", fontsize=13, ha="left")
handles = [Patch(facecolor=CLOCK[k], edgecolor="#BEBEBE", lw=1) for k in ["Dysregulated", "Mid", "Normal"]]
fig.legend(handles, ["Dysregulated", "Mid", "Normal"], loc="upper left",
           bbox_to_anchor=(569 / W, 1 - 1827 / H), frameon=False, fontsize=10,
           handlelength=1.35, handleheight=1.75, labelspacing=0.05, handletextpad=0.6,
           borderaxespad=0, borderpad=0)

fig.savefig("out.png", dpi=100, facecolor="white")
